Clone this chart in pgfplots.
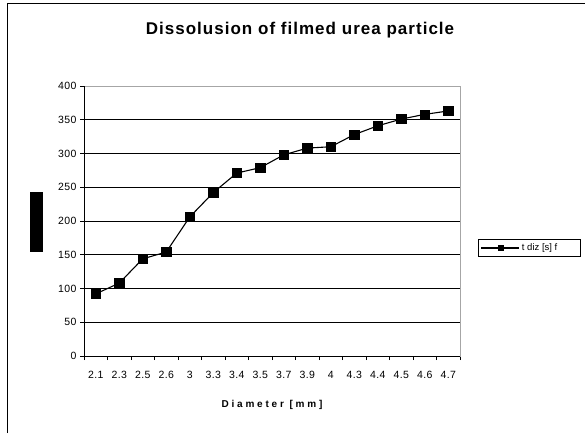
\documentclass[border=0pt]{standalone}
\usepackage{fontspec}
\setmainfont{Liberation Sans}
\usepackage{pgfplots}
\pgfplotsset{compat=1.18}
\begin{document}
\begin{tikzpicture}[x=1pt,y=1pt]
\useasboundingbox (0,0) rectangle (585,433);
\draw[line width=1.3pt] (7.5,0) -- (7.5,429.5) -- (585,429.5);
\node[font=\bfseries\fontsize{17}{19}\selectfont\addfontfeature{LetterSpace=6}] at (300,403) {Dissolusion of filmed urea particle};
\node[fill=black, minimum width=60pt, minimum height=13pt, inner sep=0pt, rotate=90, text=black, font=\tiny] at (36.5,211) {t diz [s]};
\begin{axis}[
  at={(84pt,77pt)}, anchor=south west, scale only axis,
  width=376pt, height=270pt,
  xmin=-0.5, xmax=15.5, ymin=0, ymax=400,
  xtick={0,...,15},
  xticklabels={2.1,2.3,2.5,2.6,3,3.3,3.4,3.5,3.7,3.9,4,4.3,4.4,4.5,4.6,4.7},
  major x tick style={draw=none},
  minor xtick={-0.5,0.5,...,15.5},
  ytick={0,50,...,400},
  ymajorgrids, grid style={black, line width=0.6pt},
  tick align=outside, major tick length=4pt, minor tick length=4pt,
  tick pos=left,
  axis line style={draw=gray!70, line width=0.8pt},
  tick style={black, line width=0.8pt},
  /pgf/number format/assume math mode=true,
  tick label style={font=\fontsize{10.5}{12}\selectfont\addfontfeature{LetterSpace=4}},
  xticklabel style={yshift=-8pt},
  xlabel={\bfseries\addfontfeature{LetterSpace=28}Diameter [mm]},
  xlabel style={at={(axis description cs:0.5,-0.18)}, anchor=center, font=\fontsize{10}{12}\selectfont},
  legend style={at={(1.048,0.40)}, anchor=west, draw=black, line width=0.6pt,
    font=\fontsize{9.5}{11}\selectfont, inner sep=2.5pt},
  legend cell align=left,
  legend image code/.code={\draw[mark repeat=2,mark phase=2,mark size=2.5pt] plot coordinates {(0pt,0pt) (19pt,0pt) (38pt,0pt)};},
]
\addplot[black, line width=1.1pt, mark=square*, mark size=4.6pt, mark options={fill=black, draw=black, line width=0.4pt}]
  coordinates {(0,92) (1,108) (2,144) (3,154) (4,206) (5,242) (6,271) (7,279) (8,298) (9,308) (10,310) (11,328) (12,341) (13,351) (14,358) (15,363)};
\addlegendentry{t diz [s] f\hspace*{18pt}}
\draw[black, line width=0.9pt] (rel axis cs:0,1) -- (rel axis cs:0,0) -- (rel axis cs:1,0);
\end{axis}
\end{tikzpicture}
\end{document}
